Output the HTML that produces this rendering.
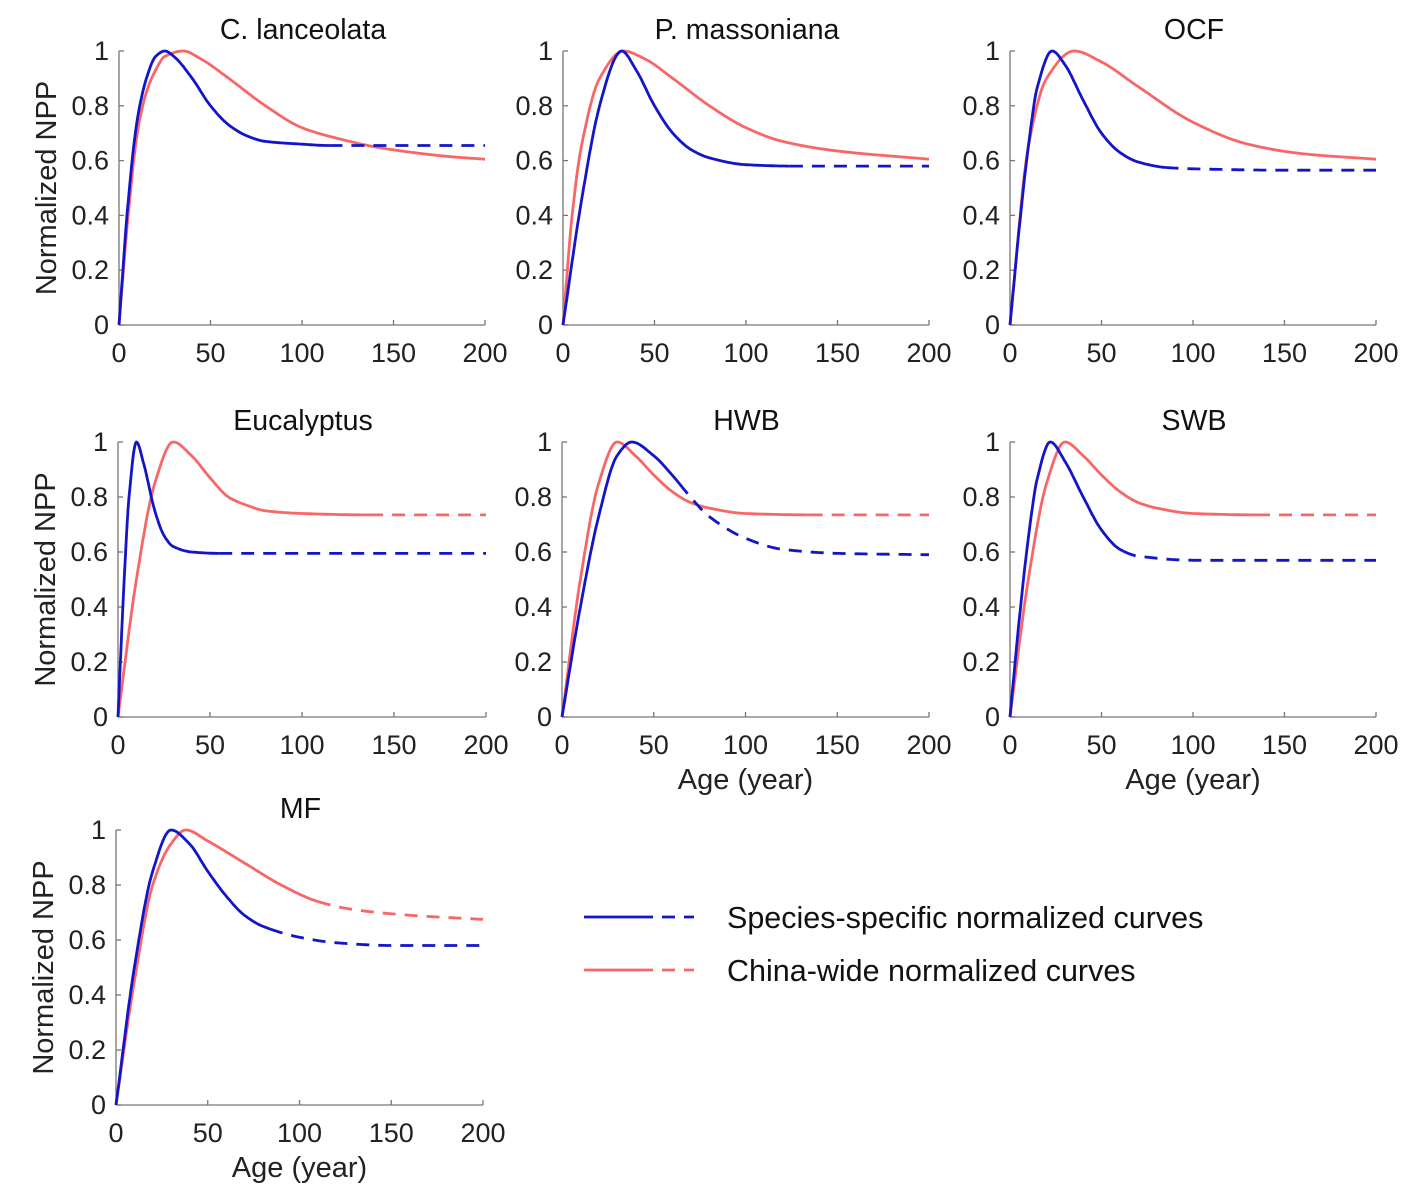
<!DOCTYPE html>
<html><head><meta charset="utf-8"><style>
body{margin:0;background:#fff}
svg{display:block;font-family:"Liberation Sans",Arial,sans-serif}
</style></head><body>
<svg id="c" width="1414" height="1199" viewBox="0 0 1414 1199"></svg>
<script>
const titles=["C. lanceolata","P. massoniana","OCF","Eucalyptus","HWB","SWB","MF"];
const xTicks=[0,50,100,150,200];
const yTicks=[0,0.2,0.4,0.6,0.8,1];
const yTickLabels=["0","0.2","0.4","0.6","0.8","1"];
// species-specific curves (age, value), solid end age
const blueAges=[
[0,5,10,15,20,25,30,40,50,60,70,80,100,115,200],
[0,10,20,30,32,40,50,60,70,80,100,125,200],
[0,5,10,15,23,30,40,50,60,70,85,100,150,200],
[0,3,6,10,14,20,25,30,40,55,200],
[0,10,20,30,38,50,60,70,80,100,120,150,200],
[0,5,10,15,22,30,40,50,60,70,100,200],
[0,10,20,30,40,50,60,70,80,100,120,150,200]];
const blueVals=[
[0,0.45,0.75,0.9,0.98,1,0.98,0.9,0.8,0.73,0.69,0.67,0.66,0.655,0.655],
[0,0.45,0.8,0.99,1,0.93,0.8,0.7,0.64,0.61,0.585,0.58,0.58],
[0,0.35,0.65,0.87,1,0.95,0.82,0.7,0.63,0.595,0.575,0.57,0.565,0.565],
[0,0.45,0.8,1,0.92,0.75,0.66,0.62,0.6,0.595,0.595],
[0,0.4,0.73,0.95,1,0.95,0.88,0.8,0.73,0.65,0.61,0.595,0.59],
[0,0.35,0.65,0.87,1,0.93,0.8,0.68,0.61,0.585,0.57,0.57],
[0,0.5,0.85,1,0.95,0.85,0.76,0.69,0.65,0.61,0.59,0.58,0.58]];
const blueSolidEnd=[115,124,85,55,64,62,84];
const redAges=[
[0,5,10,15,20,25,35,45,60,80,100,120,140,160,180,200],
[0,5,10,20,33,45,60,80,100,120,150,200],
[0,10,20,35,50,70,100,130,160,200],
[0,10,20,30,40,50,60,70,80,100,135,200],
[0,10,20,30,40,50,60,70,80,100,135,200],
[0,10,20,30,40,50,60,70,80,100,135,200],
[0,10,20,30,38,50,70,90,110,130,160,200]];
const redVals=[
[0,0.4,0.7,0.85,0.93,0.98,1,0.97,0.9,0.8,0.72,0.68,0.65,0.63,0.615,0.605],
[0,0.4,0.65,0.9,1,0.97,0.9,0.8,0.72,0.67,0.635,0.605],
[0,0.65,0.9,1,0.96,0.87,0.74,0.66,0.625,0.605],
[0,0.5,0.85,1,0.95,0.87,0.8,0.77,0.75,0.74,0.735,0.735],
[0,0.5,0.85,1,0.95,0.88,0.82,0.78,0.76,0.74,0.735,0.735],
[0,0.5,0.85,1,0.95,0.88,0.82,0.78,0.76,0.74,0.735,0.735],
[0,0.45,0.8,0.95,1,0.96,0.88,0.8,0.74,0.71,0.69,0.675]];
const redSolidEnd=[195,200,200,137,135,135,110];
// layout
const panels=[[119,485,325,51],[563,929,325,51],[1010,1376,325,51],[118,486,717,442],[562,929,717,442],[1010,1376,717,442],[116,483,1105,830]];
const showYLabel=[1,0,0,1,0,0,1], showXLabel=[0,0,0,0,1,1,1];
const NS="http://www.w3.org/2000/svg";
const svg=document.getElementById('c');
function mk(t,a,p){const e=document.createElementNS(NS,t);for(const k in a)e.setAttribute(k,a[k]);(p||svg).appendChild(e);return e;}
function interp(xs,ys){const n=xs.length,d=[],m=[];for(let i=0;i<n-1;i++)d.push((ys[i+1]-ys[i])/(xs[i+1]-xs[i]));
m[0]=d[0];m[n-1]=d[n-2];for(let i=1;i<n-1;i++){m[i]=d[i-1]*d[i]<=0?0:2/(1/d[i-1]+1/d[i]);}
return x=>{let i=0;while(i<n-2&&x>xs[i+1])i++;const h=xs[i+1]-xs[i],t=(x-xs[i])/h;const h00=2*t*t*t-3*t*t+1,h10=t*t*t-2*t*t+t,h01=-2*t*t*t+3*t*t,h11=t*t*t-t*t;return h00*ys[i]+h10*h*m[i]+h01*ys[i+1]+h11*h*m[i+1];};}
function drawCurve(g,sx,sy,ages,vals,end,color,name){
 const f=interp(ages,vals);let s="",d="";
 for(let a=0;a<=200.001;a+=0.5){const p=sx(a).toFixed(1)+","+sy(f(a)).toFixed(1);
  if(a<=end)s+=(s?"L":"M")+p; if(a>=end)d+=(d?"L":"M")+p;}
 const p1=mk('path',{d:s,fill:'none',stroke:color,'stroke-width':2.8,'stroke-linejoin':'round'},g);
 
 if(d){const p2=mk('path',{d:d,fill:'none',stroke:color,'stroke-width':2.8,'stroke-dasharray':'13 9'},g);
 }
}
panels.forEach((P,i)=>{
 const [x0,x1,y0,y1]=P;
 const sx=a=>x0+(x1-x0)*a/200, sy=v=>y0+(y1-y0)*v;
 const g=mk('g',{});
 mk('line',{x1:x0,y1:y0,x2:x1,y2:y0,stroke:'#777','stroke-width':1.3},g);
 mk('line',{x1:x0,y1:y0,x2:x0,y2:y1,stroke:'#777','stroke-width':1.3},g);
 xTicks.forEach(t=>{mk('line',{x1:sx(t),x2:sx(t),y1:y0,y2:y0-5,stroke:'#777','stroke-width':1.3},g);
  const tx=mk('text',{x:sx(t),y:y0+37,'font-size':27,'text-anchor':'middle',fill:'#222'},g);tx.textContent=t;
  });
 yTicks.forEach((t,k)=>{mk('line',{x1:x0,x2:x0+5,y1:sy(t),y2:sy(t),stroke:'#777','stroke-width':1.3},g);
  const tx=mk('text',{x:x0-10,y:sy(t)+9,'font-size':27,'text-anchor':'end',fill:'#222'},g);tx.textContent=yTickLabels[k];
  });
 const tt=mk('text',{x:(x0+x1)/2+1,y:y1-12,'font-size':28.5,'text-anchor':'middle',fill:'#111'},g);tt.textContent=titles[i];
 
 if(showYLabel[i]){const yl=mk('text',{transform:`translate(${x0-63},${(y0+y1)/2}) rotate(-90)`,'font-size':29,'text-anchor':'middle',fill:'#222'},g);yl.textContent='Normalized NPP';
  }
 if(showXLabel[i]){const xl=mk('text',{x:(x0+x1)/2,y:y0+72,'font-size':29,'text-anchor':'middle',fill:'#222'},g);xl.textContent='Age (year)';
  }
 drawCurve(g,sx,sy,redAges[i],redVals[i],redSolidEnd[i],'#f86767','china-wide-curve');
 drawCurve(g,sx,sy,blueAges[i],blueVals[i],blueSolidEnd[i],'#1414c8','species-curve');
});
</script>
<svg style="position:absolute;left:0;top:0" width="1414" height="1199">
 <g>
  <line x1="584" y1="917" x2="640" y2="917" stroke="#1414c8" stroke-width="2.8"/>
  <line x1="640" y1="917" x2="694" y2="917" stroke="#1414c8" stroke-width="2.8" stroke-dasharray="13 9"/>
  <text x="727" y="928" font-size="30.5" fill="#111" font-family="Liberation Sans, sans-serif">Species-specific normalized curves</text>
 </g>
 <g>
  <line x1="584" y1="970" x2="640" y2="970" stroke="#f86767" stroke-width="2.8"/>
  <line x1="640" y1="970" x2="694" y2="970" stroke="#f86767" stroke-width="2.8" stroke-dasharray="13 9"/>
  <text x="727" y="981" font-size="30.5" fill="#111" font-family="Liberation Sans, sans-serif">China-wide normalized curves</text>
 </g>
</svg>
</body></html>
